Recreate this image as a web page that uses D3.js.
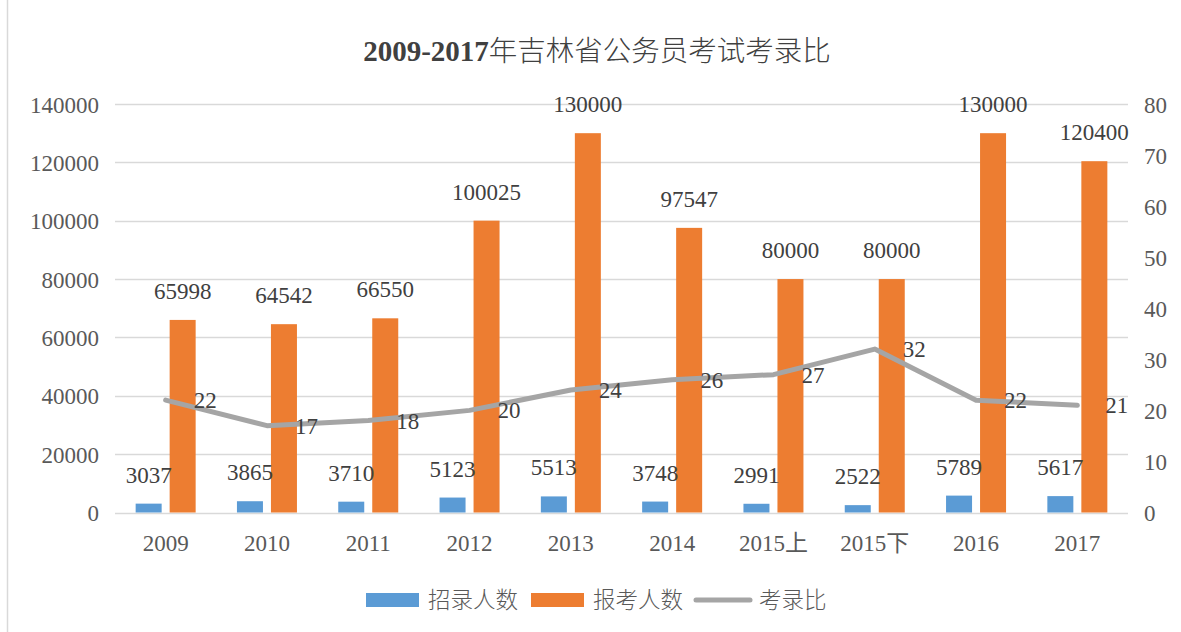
<!DOCTYPE html>
<html><head><meta charset="utf-8">
<script src="https://cdn.jsdelivr.net/npm/d3@7"></script>
<style>
body{margin:0;background:#fff;}
text{font-family:"Liberation Serif","Times New Roman","Noto Sans CJK SC",serif;fill:#595959;}
</style></head><body>
<svg id="c" width="1181" height="632"></svg>
<script>
const categories = ["2009","2010","2011","2012","2013","2014","2015上","2015下","2016","2017"];
const hired = [3037,3865,3710,5123,5513,3748,2991,2522,5789,5617];
const applicants = [65998,64542,66550,100025,130000,97547,80000,80000,130000,120400];
const ratio = [22,17,18,20,24,26,27,32,22,21];
const leftTicks = [0,20000,40000,60000,80000,100000,120000,140000];
const rightTicks = [0,10,20,30,40,50,60,70,80];
const seriesNames = ["招录人数","报考人数","考录比"];
const colors = {blue:"#5B9BD5", orange:"#ED7D31", gray:"#A5A5A5"};

const svg = d3.select("#c");
const L=115, R=1128, T=104, B=512.5;
const x = d3.scaleBand().domain(categories).range([L,R]).padding(0);
const y = d3.scaleLinear().domain([0,140000]).range([B,T]);
const y2 = d3.scaleLinear().domain([0,80]).range([B,T]);
const cx = c => x(c)+x.bandwidth()/2;
const fs = 23;

// chart border (left edge)
svg.append("line").attr("x1",7.5).attr("x2",7.5).attr("y1",0).attr("y2",632).attr("stroke","#d9d9d9").attr("stroke-width",1.5);

// title
const t = svg.append("text").attr("x",597).attr("y",61).attr("text-anchor","middle").style("font-size","29px").style("fill","#404040");
t.append("tspan").text("2009-2017").style("font-weight","bold");
t.append("tspan").text("年吉林省公务员考试考录比").style("font-family","'Noto Sans CJK SC',sans-serif").style("font-weight","300").style("font-size","28.5px");

// gridlines
svg.append("g").selectAll("line").data(leftTicks).join("line")
  .attr("x1",L).attr("x2",R).attr("y1",d=>Math.round(y(d))+0.5).attr("y2",d=>Math.round(y(d))+0.5)
  .attr("stroke","#d9d9d9").attr("stroke-width",1.5);

// left axis
const gl = svg.append("g").attr("transform",`translate(${L-16},0)`)
  .call(d3.axisLeft(y).tickValues(leftTicks).tickSize(0).tickPadding(0).tickFormat(d3.format("d")));
gl.select(".domain").remove();
gl.attr("font-family",null);
gl.selectAll("text").style("font-size",fs+"px").attr("dy","0.35em");

// right axis
const gr = svg.append("g").attr("transform",`translate(${R+16},0)`)
  .call(d3.axisRight(y2).tickValues(rightTicks).tickSize(0).tickPadding(0));
gr.select(".domain").remove();
gr.attr("font-family",null);
gr.selectAll("text").style("font-size",fs+"px").attr("dy","0.35em");

// x axis labels
const gx = svg.append("g").attr("transform",`translate(0,${B+38})`)
  .call(d3.axisBottom(x).tickSize(0).tickPadding(0));
gx.select(".domain").remove();
gx.attr("font-family",null);
gx.selectAll("text").style("font-size",fs+"px").attr("dy",0);

// bars
const bw = 26, gap = 4;
svg.append("g").selectAll("rect").data(categories).join("rect")
  .attr("x",(c)=>cx(c)-gap-bw).attr("width",bw)
  .attr("y",(c,i)=>y(hired[i])).attr("height",(c,i)=>B-y(hired[i]))
  .attr("fill",colors.blue);
svg.append("g").selectAll("rect").data(categories).join("rect")
  .attr("x",(c)=>cx(c)+gap).attr("width",bw)
  .attr("y",(c,i)=>y(applicants[i])).attr("height",(c,i)=>B-y(applicants[i]))
  .attr("fill",colors.orange);

// bar labels
svg.append("g").selectAll("text").data(categories).join("text")
  .attr("x",c=>cx(c)-gap-bw/2).attr("y",(c,i)=>y(hired[i])-21)
  .attr("text-anchor","middle").style("font-size",fs+"px").style("fill","#404040")
  .text((c,i)=>hired[i]);
svg.append("g").selectAll("text").data(categories).join("text")
  .attr("x",c=>cx(c)+gap+bw/2).attr("y",(c,i)=>y(applicants[i])-21)
  .attr("text-anchor","middle").style("font-size",fs+"px").style("fill","#404040")
  .text((c,i)=>applicants[i]);

// line
const line = d3.line().x((d,i)=>cx(categories[i])).y(d=>y2(d));
svg.append("path").datum(ratio).attr("d",line).attr("fill","none")
  .attr("stroke",colors.gray).attr("stroke-width",5).attr("stroke-linejoin","round").attr("stroke-linecap","round");
svg.append("g").selectAll("text").data(ratio).join("text")
  .attr("x",(d,i)=>cx(categories[i])+28).attr("y",d=>y2(d)+8)
  .style("font-size",fs+"px").style("fill","#404040").text(d=>d);

// legend
const lg = svg.append("g").style("font-size",fs+"px");
const lgY = 600;
const legendItems = [
  {name:seriesNames[0], type:"rect", color:colors.blue, x0:366, tx:428},
  {name:seriesNames[1], type:"rect", color:colors.orange, x0:531, tx:593},
  {name:seriesNames[2], type:"line", color:colors.gray, x0:696, tx:759}
];
legendItems.forEach(it=>{
  if(it.type==="rect"){
    lg.append("rect").attr("x",it.x0).attr("y",lgY-7).attr("width",53).attr("height",14).attr("fill",it.color);
  } else {
    lg.append("line").attr("x1",it.x0).attr("x2",it.x0+54).attr("y1",lgY).attr("y2",lgY)
      .attr("stroke",it.color).attr("stroke-width",5).attr("stroke-linecap","round");
  }
  lg.append("text").attr("x",it.tx).attr("y",lgY).attr("dy","0.35em")
    .style("font-family","'Noto Sans CJK SC',sans-serif").style("font-weight","300").style("font-size","22.5px").text(it.name);
});
</script></body></html>
